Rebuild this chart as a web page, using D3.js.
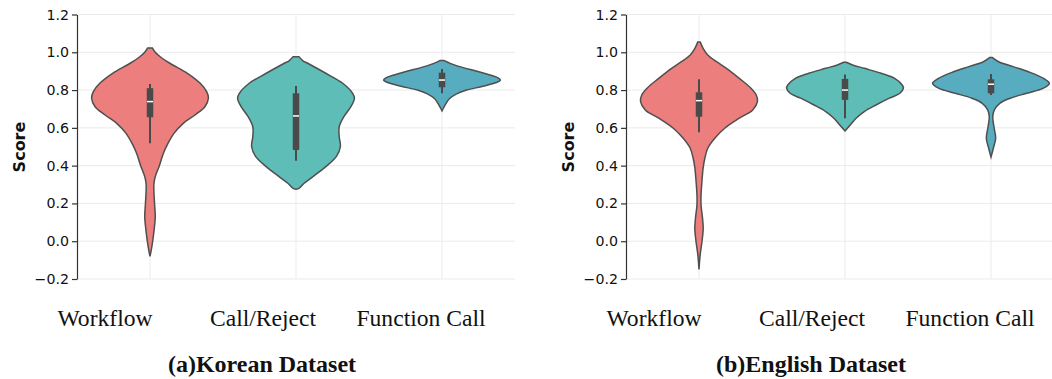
<!DOCTYPE html>
<html>
<head>
<meta charset="utf-8">
<script src="https://cdn.jsdelivr.net/npm/d3@7"></script>
<style>
body { margin: 0; background: #fff; }
</style>
</head>
<body>
<svg id="canvas" width="1052" height="379"></svg>
<script>
let categories = ["Workflow", "Call/Reject", "Function Call"]
let colors = ["#ED7E7E", "#5EBDB6", "#57ACC0"]
let yTicks = [-0.2, 0, 0.2, 0.4, 0.6, 0.8, 1.0, 1.2]

// violin outlines: [score, relative half width]
let koWorkflow = [[1.023, 0.04], [1.0, 0.09], [0.975, 0.18], [0.942, 0.34], [0.889, 0.64], [0.836, 0.86], [0.792, 0.97],
  [0.757, 1.0], [0.712, 0.94], [0.668, 0.77], [0.624, 0.57], [0.571, 0.41], [0.519, 0.31], [0.466, 0.23],
  [0.40, 0.16], [0.342, 0.09], [0.30, 0.066], [0.20, 0.078], [0.13, 0.09], [0.06, 0.07], [0.0, 0.046],
  [-0.05, 0.02], [-0.08, 0.0]]
let koCallReject = [[0.977, 0.05], [0.955, 0.12], [0.942, 0.2], [0.889, 0.51], [0.836, 0.8], [0.783, 0.97], [0.757, 1.0],
  [0.712, 0.94], [0.659, 0.82], [0.606, 0.74], [0.553, 0.74], [0.50, 0.76], [0.448, 0.69], [0.395, 0.51],
  [0.342, 0.29], [0.307, 0.14], [0.28, 0.05], [0.275, 0.0]]
let koFunctionCall = [[0.957, 0.03], [0.94, 0.15], [0.92, 0.35], [0.90, 0.6], [0.88, 0.82], [0.865, 0.96], [0.853, 1.0],
  [0.84, 0.93], [0.82, 0.7], [0.80, 0.42], [0.78, 0.25], [0.755, 0.13], [0.73, 0.07], [0.705, 0.025], [0.69, 0.0]]
let enWorkflow = [[1.055, 0.02], [1.021, 0.07], [0.986, 0.15], [0.95, 0.30], [0.915, 0.47], [0.862, 0.69], [0.81, 0.89],
  [0.774, 0.98], [0.739, 1.0], [0.695, 0.92], [0.651, 0.69], [0.598, 0.44], [0.545, 0.27], [0.492, 0.15],
  [0.439, 0.10], [0.386, 0.07], [0.315, 0.05], [0.245, 0.035], [0.192, 0.035], [0.122, 0.06], [0.069, 0.072],
  [0.0, 0.052], [-0.072, 0.02], [-0.15, 0.0]]
let enCallReject = [[0.947, 0.02], [0.933, 0.13], [0.915, 0.33], [0.889, 0.62], [0.862, 0.85], [0.827, 0.98], [0.81, 1.0],
  [0.783, 0.94], [0.757, 0.76], [0.721, 0.53], [0.686, 0.33], [0.651, 0.19], [0.615, 0.09], [0.584, 0.0]]
let enFunctionCall = [[0.973, 0.02], [0.95, 0.13], [0.924, 0.38], [0.897, 0.64], [0.862, 0.90], [0.836, 1.0], [0.81, 0.90],
  [0.783, 0.61], [0.757, 0.33], [0.73, 0.15], [0.695, 0.057], [0.659, 0.03], [0.606, 0.05], [0.545, 0.08],
  [0.492, 0.04], [0.445, 0.0]]

// inner box: [whisker low, q1, median, q3, whisker high]
let koBox = [[0.518, 0.656, 0.739, 0.81, 0.832], [0.426, 0.483, 0.663, 0.783, 0.822], [0.783, 0.815, 0.853, 0.892, 0.912]]
let enBox = [[0.577, 0.659, 0.744, 0.788, 0.857], [0.651, 0.748, 0.80, 0.859, 0.883], [0.774, 0.783, 0.831, 0.857, 0.885]]

let panels = [
  {title: "(a)Korean Dataset", violins: [koWorkflow, koCallReject, koFunctionCall], boxes: koBox, dx: 0},
  {title: "(b)English Dataset", violins: [enWorkflow, enCallReject, enFunctionCall], boxes: enBox, dx: 549}
]

let canvas = d3.select("#canvas")
let edge = "#4f4f4f"

let drawPanel = (p) => {
  let g = canvas.append("g").attr("transform", "translate(" + p.dx + ",0)")

  let x = d3.scaleBand().domain(categories).range([77, 515]).padding(0)
  let y = d3.scaleLinear().domain([-0.2, 1.2]).range([279, 14.5])
  let w = d3.scaleLinear().domain([0, 1]).range([0, x.bandwidth() * 0.8 / 2])
  let labelX = d3.scalePoint().domain(categories).range([105, 421])

  // grid
  g.append("g").selectAll("line").data(yTicks).enter().append("line")
    .attr("x1", 77).attr("x2", 515)
    .attr("y1", d => y(d)).attr("y2", d => y(d))
    .attr("stroke", "#ebebeb").attr("stroke-width", 1)
  g.append("g").selectAll("line").data(categories).enter().append("line")
    .attr("x1", d => x(d) + x.bandwidth() / 2).attr("x2", d => x(d) + x.bandwidth() / 2)
    .attr("y1", y(-0.2)).attr("y2", y(1.2))
    .attr("stroke", "#ebebeb").attr("stroke-width", 1)

  // violins
  categories.forEach((c, i) => {
    let cx = x(c) + x.bandwidth() / 2
    let area = d3.area()
      .y(d => y(d[0]))
      .x0(d => cx - w(d[1]))
      .x1(d => cx + w(d[1]))
      .curve(d3.curveCatmullRom)
    g.append("path")
      .datum(p.violins[i])
      .attr("d", area)
      .attr("fill", colors[i])
      .attr("stroke", edge)
      .attr("stroke-width", 1.5)

    let b = p.boxes[i]
    g.append("line")
      .attr("x1", cx).attr("x2", cx)
      .attr("y1", y(b[0])).attr("y2", y(b[4]))
      .attr("stroke", "#4a4a4a").attr("stroke-width", 2)
    g.append("line")
      .attr("x1", cx).attr("x2", cx)
      .attr("y1", y(b[1])).attr("y2", y(b[3]))
      .attr("stroke", "#4a4a4a").attr("stroke-width", 6.5)
    g.append("line")
      .attr("x1", cx - 3).attr("x2", cx + 3)
      .attr("y1", y(b[2])).attr("y2", y(b[2]))
      .attr("stroke", "#fff").attr("stroke-width", 1.5)
  })

  // y axis
  let axis = g.append("g")
    .attr("transform", "translate(77,0)")
    .call(d3.axisLeft(y).tickValues(yTicks).tickFormat(d3.format(".1f")).tickSize(5).tickSizeOuter(0).tickPadding(3))
  axis.select(".domain").attr("stroke", "#333").attr("stroke-width", 1.2)
  axis.selectAll(".tick line").attr("stroke", "#333").attr("stroke-width", 1.2)
  axis.selectAll(".tick text")
    .attr("fill", "#111")
    .style("font-family", "DejaVu Sans")
    .style("font-size", "14.2px")

  g.append("text")
    .attr("transform", "translate(25,147) rotate(-90)")
    .attr("text-anchor", "middle")
    .style("font-family", "DejaVu Sans")
    .style("font-weight", "bold")
    .style("font-size", "16px")
    .attr("fill", "#111")
    .text("Score")

  // category labels and caption
  g.append("g").selectAll("text").data(categories).enter().append("text")
    .attr("x", d => labelX(d))
    .attr("y", 326)
    .attr("text-anchor", "middle")
    .style("font-family", "Liberation Serif")
    .style("font-size", "23.6px")
    .attr("fill", "#111")
    .text(d => d)

  g.append("text")
    .attr("x", 262)
    .attr("y", 372)
    .attr("text-anchor", "middle")
    .style("font-family", "Liberation Serif")
    .style("font-weight", "bold")
    .style("font-size", "24px")
    .attr("fill", "#111")
    .text(p.title)
}

panels.forEach(p => drawPanel(p))
</script>
</body>
</html>
